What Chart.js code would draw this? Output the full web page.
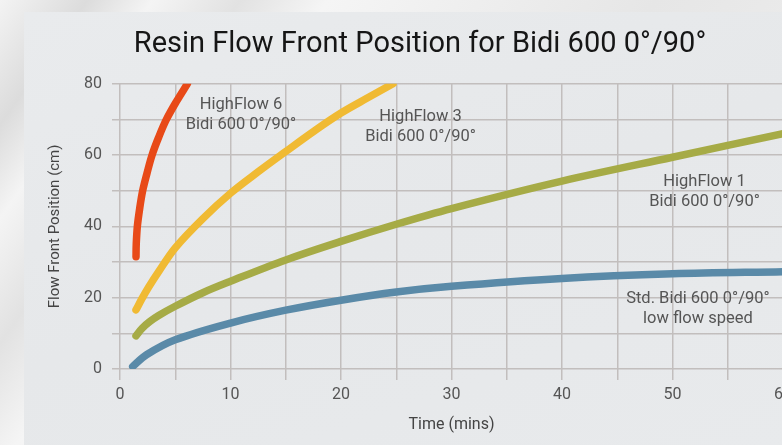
<!DOCTYPE html>
<html>
<head>
<meta charset="utf-8">
<script src="https://cdn.jsdelivr.net/npm/chart.js@4/dist/chart.umd.min.js"></script>
<style>
  html, body { margin: 0; padding: 0; width: 782px; height: 445px; overflow: hidden; }
  body {
    background: linear-gradient(125deg, #f3f3f3 0%, #dcdcdc 8%, #f4f4f4 14%, #e2e2e2 22%, #f5f5f5 30%, #e6e6e6 60%, #f2f2f2 100%);
    position: relative;
  }
  #panel {
    position: absolute; left: 24px; top: 12px; width: 760px; height: 440px;
    background: linear-gradient(160deg, #e9ebed 0%, #e6e8ea 50%, #e8eaec 100%);
  }
  #chart { position: absolute; left: 0; top: 0; }
</style>
</head>
<body>
<div id="panel"></div>
<canvas id="chart" width="840" height="445"></canvas>
<script>
// ---- data ----
const stdTime = [1.15, 2.4, 5, 10, 15, 20, 25, 30, 40, 50, 60];
const stdFlow = [0.7, 4, 8.2, 12.9, 16.5, 19.3, 21.6, 23.2, 25.4, 26.7, 27.3];

const hf1Time = [1.45, 2, 2.7, 3.5, 5, 7.5, 10, 15, 20, 25, 30, 40, 50, 60];
const hf1Flow = [9.3, 11.4, 13.3, 15.0, 17.6, 21.4, 24.6, 30.6, 35.8, 40.6, 45, 52.7, 59.4, 66];

const hf3Time = [1.45, 2, 2.6, 3.5, 5, 7.5, 10, 12.5, 15, 17.5, 20, 22.5, 24.7];
const hf3Flow = [16.6, 19.8, 23.0, 27.3, 34, 42.2, 49.3, 55.3, 61, 66.6, 71.8, 76.2, 80];

const hf6Time = [1.45, 1.47, 1.57, 1.78, 2.05, 2.45, 2.9, 3.5, 4.2, 5.1, 6.1];
const hf6Flow = [31.5, 35, 40, 45, 50, 55, 60, 65, 70, 75, 80];

const xTickLabels = [0, 10, 20, 30, 40, 50, 60];
const yTickLabels = [0, 20, 40, 60, 80];

// curve notes: text lines + anchor (time, position of first line)
const notes = [
  { lines: ["HighFlow 6", "Bidi 600 0°/90°"], t: 10.95, y: 74.1 },
  { lines: ["HighFlow 3", "Bidi 600 0°/90°"], t: 27.2, y: 70.7 },
  { lines: ["HighFlow 1", "Bidi 600 0°/90°"], t: 52.9, y: 52.5 },
  { lines: ["Std. Bidi 600 0°/90°", "low flow speed"], t: 52.3, y: 19.7 },
];

const FONT = "Roboto";
const pts = (xs, ys) => xs.map((x, i) => ({ x, y: ys[i] }));

const series = (data, color) => ({
  data,
  borderColor: color,
  borderWidth: 7.5,
  borderCapStyle: "round",
  borderJoinStyle: "round",
  pointRadius: 0,
  fill: false,
  tension: 0.35,
});

const notesPlugin = {
  id: "notes",
  afterDatasetsDraw(chart) {
    const { ctx, scales: { x, y } } = chart;
    ctx.save();
    ctx.font = "16.5px " + FONT;
    ctx.fillStyle = "#555";
    ctx.textAlign = "center";
    ctx.textBaseline = "middle";
    notes.forEach(n => {
      const px = x.getPixelForValue(n.t);
      const py = y.getPixelForValue(n.y);
      n.lines.forEach((l, i) => ctx.fillText(l, px, py + i * 20));
    });
    ctx.restore();
  },
};

const gridColor = "#c2bebd";

new Chart(document.getElementById("chart"), {
  type: "line",
  data: {
    datasets: [
      series(pts(stdTime, stdFlow), "#5a8aa8"),
      series(pts(hf1Time, hf1Flow), "#a6ab46"),
      series(pts(hf3Time, hf3Flow), "#f0ba33"),
      series(pts(hf6Time, hf6Flow), "#e84a18"),
    ],
  },
  options: {
    responsive: false,
    animation: false,
    devicePixelRatio: 1,
    layout: { padding: 0 },
    plugins: {
      legend: { display: false },
      tooltip: { enabled: false },
      title: {
        display: true,
        text: "Resin Flow Front Position for Bidi 600 0°/90°",
        color: "#161616",
        font: { family: FONT, size: 29, weight: "normal" },
        padding: { top: 27, bottom: 22 },
      },
    },
    scales: {
      x: {
        type: "linear",
        min: 0,
        max: 60,
        afterFit: s => { s.height = 76; },
        grid: { color: gridColor, lineWidth: 1.5, tickLength: 11 },
        border: { display: false },
        ticks: {
          stepSize: 5,
          color: "#555",
          padding: 5,
          maxRotation: 0,
          font: { family: FONT, size: 16 },
          callback: v => (xTickLabels.includes(v) ? String(v) : ""),
        },
        title: {
          display: true,
          text: "Time (mins)",
          color: "#444",
          font: { family: FONT, size: 16 },
          padding: { top: 4, bottom: 10 },
        },
      },
      y: {
        min: 0,
        max: 80,
        afterFit: s => { s.width = 120; },
        grid: { color: gridColor, lineWidth: 1.5, tickLength: 8 },
        border: { display: false },
        ticks: {
          stepSize: 10,
          color: "#555",
          padding: 10,
          font: { family: FONT, size: 16 },
          callback: v => (yTickLabels.includes(v) ? String(v) : ""),
        },
        title: {
          display: true,
          text: "Flow Front Position (cm)",
          color: "#444",
          font: { family: FONT, size: 15 },
          padding: { top: 46, bottom: 0 },
        },
      },
      // empty right-hand box so the plot runs out to the window edge while the title stays centred
      yRight: {
        type: "linear",
        position: "right",
        display: true,
        afterFit: s => { s.width = 57; },
        grid: { display: false },
        border: { display: false },
        ticks: { display: false },
      },
    },
  },
  plugins: [notesPlugin],
});
</script>
</body>
</html>
